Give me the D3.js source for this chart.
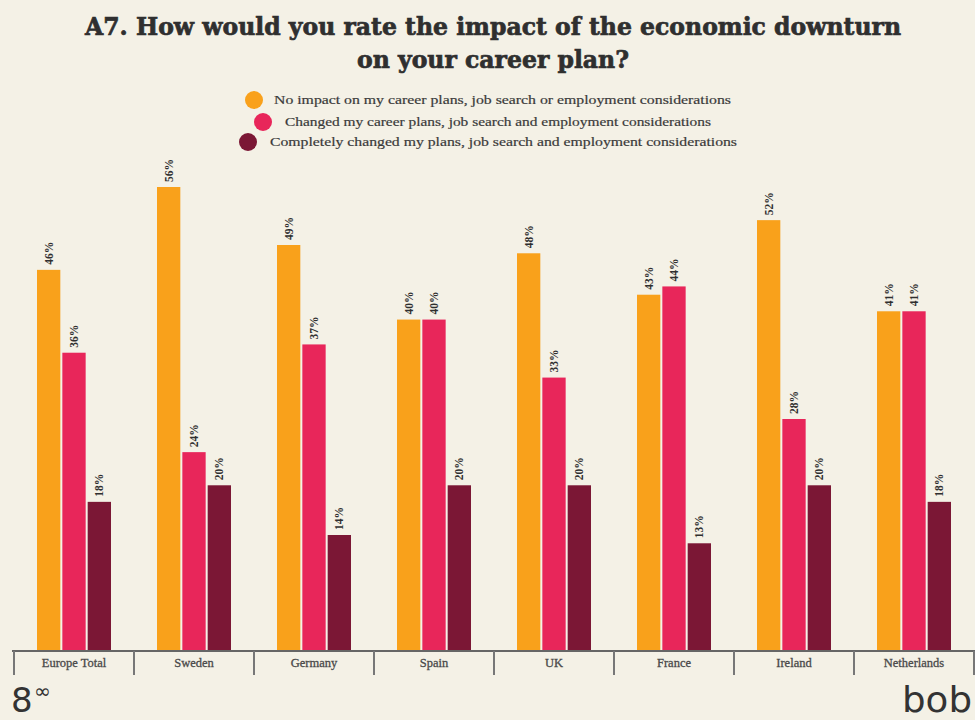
<!DOCTYPE html>
<html>
<head>
<meta charset="utf-8">
<script src="https://cdn.jsdelivr.net/npm/d3@7"></script>
<style>
  html, body { margin: 0; padding: 0; background: #F4F1E6; }
  svg { display: block; }
</style>
</head>
<body>
<script>
const categories = ["Europe Total", "Sweden", "Germany", "Spain", "UK", "France", "Ireland", "Netherlands"];
const seriesNames = [
  "No impact on my career plans, job search or employment considerations",
  "Changed my career plans, job search and employment considerations",
  "Completely changed my plans, job search and employment considerations"
];
const noImpact = [46, 56, 49, 40, 48, 43, 52, 41];
const changed = [36, 24, 37, 40, 33, 44, 28, 41];
const completelyChanged = [18, 20, 14, 20, 20, 13, 20, 18];
const colors = ["#F9A11B", "#E8265A", "#7B1735"];
const title1 = "A7. How would you rate the impact of the economic downturn";
const title2 = "on your career plan?";

const W = 975, H = 720;
const svg = d3.select("body").append("svg").attr("width", W).attr("height", H);
svg.append("rect").attr("width", W).attr("height", H).attr("fill", "#F4F1E6");

const series = [noImpact, changed, completelyChanged];
const data = categories.map((c, i) => ({ cat: c, vals: series.map(s => s[i]) }));

const x = d3.scaleBand().domain(categories).range([14, 974]).paddingInner(0).paddingOuter(0);
const x1 = d3.scaleBand().domain([0, 1, 2]).range([0, 74]).paddingInner(0.08);
const y = d3.scaleLinear().domain([0, 56]).range([651, 187]);

// title
const serifBold = "'DejaVu Serif', serif";
[[title1, 35, 816], [title2, 68, 272]].forEach(([t, ty, tl]) => {
  svg.append("text").attr("x", 493).attr("y", ty).attr("text-anchor", "middle")
    .attr("font-family", serifBold).attr("font-weight", "bold").attr("font-size", 24)
    .attr("fill", "#2f2f2f").attr("stroke", "#2f2f2f").attr("stroke-width", 0.7)
    .attr("textLength", tl).attr("lengthAdjust", "spacingAndGlyphs")
    .text(t);
});

// legend
const legendPos = [
  { cx: 254, cy: 100, tx: 274, tl: 457 },
  { cx: 263, cy: 122, tx: 285, tl: 426 },
  { cx: 248, cy: 142, tx: 270, tl: 467 }
];
const lg = svg.append("g");
seriesNames.forEach((n, i) => {
  const p = legendPos[i];
  lg.append("circle").attr("cx", p.cx).attr("cy", p.cy).attr("r", 9).attr("fill", colors[i]);
  lg.append("text").attr("x", p.tx).attr("y", p.cy + 4)
    .attr("font-family", "'Liberation Serif', serif").attr("font-size", 13)
    .attr("fill", "#3a3a3a").attr("stroke", "#3a3a3a").attr("stroke-width", 0.2)
    .attr("textLength", p.tl).attr("lengthAdjust", "spacingAndGlyphs")
    .text(n);
});

// bars
const groups = svg.append("g").selectAll("g").data(data).join("g")
  .attr("transform", d => `translate(${x(d.cat) + (x.bandwidth() - 74) / 2},0)`);
groups.selectAll("rect").data(d => d.vals.map((v, i) => ({ v, i }))).join("rect")
  .attr("x", d => x1(d.i)).attr("width", x1.bandwidth())
  .attr("y", d => y(d.v)).attr("height", d => y(0) - y(d.v))
  .attr("fill", d => colors[d.i]);
groups.selectAll("text").data(d => d.vals.map((v, i) => ({ v, i }))).join("text")
  .attr("transform", d => `translate(${x1(d.i) + x1.bandwidth() / 2 + 4},${y(d.v) - 5}) rotate(-90)`)
  .attr("font-family", "'Liberation Serif', serif").attr("font-size", 11.5)
  .attr("font-weight", "bold").attr("fill", "#2f2f2f")
  .text(d => d.v + "%");

// axis
const axis = d3.axisBottom(x).tickSize(0).tickSizeOuter(0);
const ax = svg.append("g").attr("transform", "translate(0,651)").call(axis);
ax.select(".domain").remove();
ax.selectAll("text").attr("dy", 0).attr("y", 16)
  .attr("font-family", "'Liberation Serif', serif").attr("font-size", 12.5)
  .attr("fill", "#4a4a4a").attr("stroke", "#4a4a4a").attr("stroke-width", 0.3);
svg.append("line").attr("x1", 12).attr("x2", 975).attr("y1", 651).attr("y2", 651)
  .attr("stroke", "#666").attr("stroke-width", 2);
const sepXs = categories.map(c => x(c)).concat([x.range()[1]]);
svg.append("g").selectAll("line").data(sepXs).join("line")
  .attr("x1", d => d).attr("x2", d => d).attr("y1", 651).attr("y2", 675)
  .attr("stroke", "#777").attr("stroke-width", 2);

// logos
svg.append("text").attr("x", 11).attr("y", 712).attr("font-family", "'DejaVu Sans', sans-serif")
  .attr("font-size", 34).attr("fill", "#333").text("8");
svg.append("text").attr("x", 34).attr("y", 698).attr("font-family", "'DejaVu Sans', sans-serif")
  .attr("font-size", 20).attr("fill", "#333").text("∞");
svg.append("text").attr("x", 902).attr("y", 712).attr("font-family", "'DejaVu Sans', sans-serif")
  .attr("font-size", 36).attr("fill", "#333")
  .attr("textLength", 70).attr("lengthAdjust", "spacingAndGlyphs").text("bob");
</script>
</body>
</html>
